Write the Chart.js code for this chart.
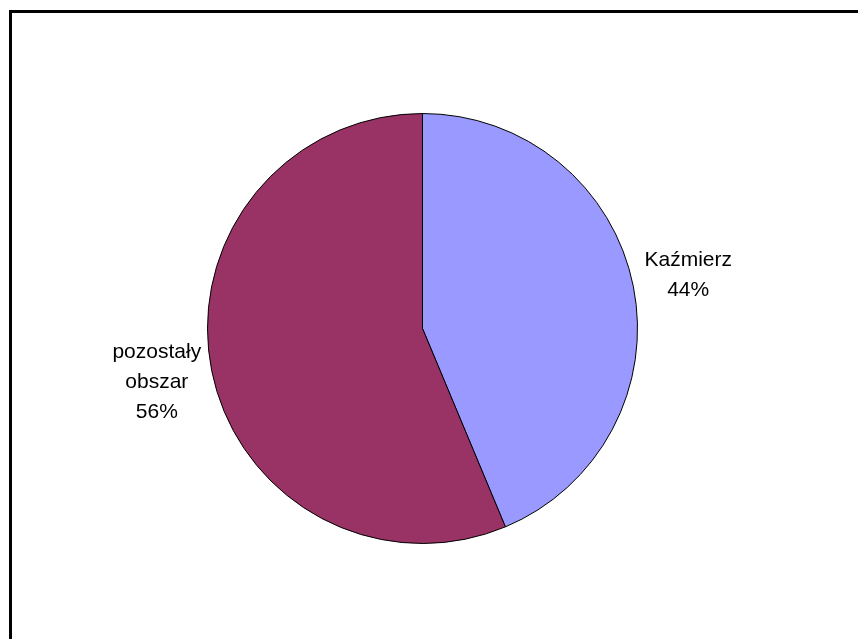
<!DOCTYPE html>
<html>
<head>
<meta charset="utf-8">
<script src="https://cdn.jsdelivr.net/npm/chart.js@4/dist/chart.umd.min.js"></script>
<style>
    body { margin: 0; background: #fff; }
    #wrap { position: relative; width: 858px; height: 639px; overflow: hidden; }
    #frame {
        position: absolute; left: 9px; top: 10px; right: -5px; bottom: -5px;
        border-left: 3px solid #000; border-top: 3px solid #000;
    }
    #pieChart { position: absolute; left: 0; top: 0; }
</style>
</head>
<body>
<div id="wrap">
    <div id="frame"></div>
    <canvas id="pieChart" width="858" height="639"></canvas>
</div>
<script>
const labels = [["Kaźmierz"], ["pozostały", "obszar"]];
const shares = [43.7, 56.3];
const colors = ["#9999FF", "#993366"];

document.addEventListener("DOMContentLoaded", function () {
    const sliceLabels = {
        id: "sliceLabels",
        afterDatasetsDraw(chart) {
            const ctx = chart.ctx;
            const meta = chart.getDatasetMeta(0);
            ctx.save();
            ctx.font = "21px 'Liberation Sans', Arial, sans-serif";
            ctx.fillStyle = "#000";
            ctx.textAlign = "center";
            ctx.textBaseline = "middle";
            meta.data.forEach((arc, i) => {
                const mid = (arc.startAngle + arc.endAngle) / 2;
                const r = arc.outerRadius + 56;
                const x = arc.x + Math.cos(mid) * r;
                const y = arc.y + Math.sin(mid) * r;
                const lines = labels[i].concat([Math.round(shares[i]) + "%"]);
                const lh = 30;
                const y0 = y - (lines.length - 1) * lh / 2;
                lines.forEach((t, j) => ctx.fillText(t, x, y0 + j * lh));
            });
            ctx.restore();
        }
    };

    new Chart(document.getElementById("pieChart"), {
        type: "pie",
        data: {
            labels: labels.map(l => l.join(" ")),
            datasets: [{
                data: shares,
                backgroundColor: colors,
                borderColor: "#000",
                borderWidth: 1
            }]
        },
        options: {
            responsive: false,
            animation: false,
            layout: { padding: { left: 207, right: 220, top: 113, bottom: 95 } },
            plugins: {
                legend: { display: false },
                tooltip: { enabled: false }
            }
        },
        plugins: [sliceLabels]
    });
});
</script>
</body>
</html>
